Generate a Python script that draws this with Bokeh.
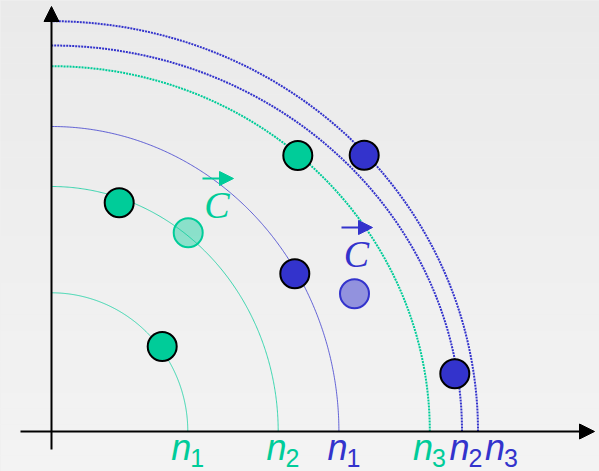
import numpy as np
from bokeh.plotting import figure
from bokeh.models import Range1d, Arrow, NormalHead
from bokeh.core.properties import value
from bokeh.embed import file_html
from bokeh.resources import INLINE

GREEN = "#00CC99"
BLUE = "#3333CC"

# ---- data ----
green_x = [67.7, 246.3, 110.7]
green_y = [228.7, 276.0, 85.0]
blue_x = [243.3, 312.7, 403.3]
blue_y = [157.7, 276.3, 57.7]
centroid_x = [136.7, 303.0]
centroid_y = [198.7, 137.7]

arc_group = ["green", "green", "blue", "green", "blue", "blue"]
arc_rx = [136.3, 226.7, 287.4, 378.3, 410.5, 426.5]
arc_ry = [138.7, 245.0, 305.0, 365.3, 386.0, 410.3]
arc_dotted = [False, False, False, True, True, True]
label_main = ["n", "n", "n", "n", "n", "n"]
label_sub = ["1", "2", "1", "3", "2", "3"]

# ---- layout (annotation positions) ----
label_x = [119.7, 215.0, 276.0, 361.5, 398.0, 433.5]
c_text_x = [165.5, 305.0]
c_text_y = [227.0, 178.0]
vec_x0 = [151.0, 290.0]
vec_x1 = [182.0, 321.0]
vec_y = [253.0, 204.0]

col = {"green": GREEN, "blue": BLUE}

x0, x1, y0, y1 = -51, 548, -40, 431
p = figure(width=599, height=471, x_range=Range1d(x0, x1), y_range=Range1d(y0, y1),
           output_backend="svg", toolbar_location=None, min_border=0,
           x_axis_location=None, y_axis_location=None)
p.grid.visible = False
p.outline_line_color = None
p.background_fill_color = "#efefef"
p.border_fill_color = "#efefef"

# subtle vertical gradient background
nb = 30
edges = np.linspace(y0, y1, nb + 1)
levels = np.linspace(243, 234, nb).round().astype(int)
band_colors = ["#%02x%02x%02x" % (v, v, v) for v in levels]
p.quad(left=x0, right=x1, bottom=edges[:-1], top=edges[1:], fill_color=band_colors, line_color=None)

# axes with arrow heads
p.add_layout(Arrow(end=NormalHead(size=15, fill_color="black", line_color="black", line_width=1),
                   x_start=-31, y_start=0, x_end=543, y_end=0, line_width=2, line_color="black"))
p.add_layout(Arrow(end=NormalHead(size=15, fill_color="black", line_color="black", line_width=1),
                   x_start=0, y_start=-18, x_end=0, y_end=425, line_width=2, line_color="black"))

# arcs
theta = np.linspace(0, np.pi / 2, 300)
for g, rx, ry, dotted in zip(arc_group, arc_rx, arc_ry, arc_dotted):
    if dotted:
        p.line(rx * np.cos(theta), ry * np.sin(theta), line_color=col[g], line_width=2, line_dash="2 1")
    else:
        p.line(rx * np.cos(theta), ry * np.sin(theta), line_color=col[g], line_width=1, line_alpha=0.75)

# points
p.scatter(green_x, green_y, size=29, fill_color=GREEN, line_color="black", line_width=2)
p.scatter(blue_x, blue_y, size=29, fill_color=BLUE, line_color="black", line_width=2)
p.scatter(centroid_x, centroid_y, size=29, fill_color=[GREEN, BLUE], fill_alpha=[0.42, 0.5],
          line_color=[GREEN, BLUE], line_width=2)

# centroid labels with vector arrows
p.text(x=c_text_x, y=c_text_y, text=["C", "C"], text_font=value("Liberation Serif"),
       text_font_style="italic", text_font_size="38px", text_align="center",
       text_baseline="alphabetic", text_color=[GREEN, BLUE])
for xa, xb, yy, c in zip(vec_x0, vec_x1, vec_y, [GREEN, BLUE]):
    p.add_layout(Arrow(end=NormalHead(size=14, fill_color=c, line_color=c, line_width=1),
                       x_start=xa, y_start=yy, x_end=xb, y_end=yy, line_width=2, line_color=c))

# axis labels n_i
lab_colors = [col[g] for g in arc_group]
p.text(x=label_x, y=-16, text=label_main, text_font=value("Liberation Sans"), text_font_style="italic",
       text_font_size="36px", text_align="left", text_baseline="alphabetic", text_color=lab_colors)
p.text(x=label_x, y=-26, x_offset=19, text=label_sub, text_font=value("Liberation Sans"),
       text_font_size="25px", text_align="left", text_baseline="alphabetic", text_color=lab_colors)

open("out.html", "w").write(file_html(p, INLINE).replace("<body>", '<body style="margin:0;background:#efefef;overflow:hidden">'))
